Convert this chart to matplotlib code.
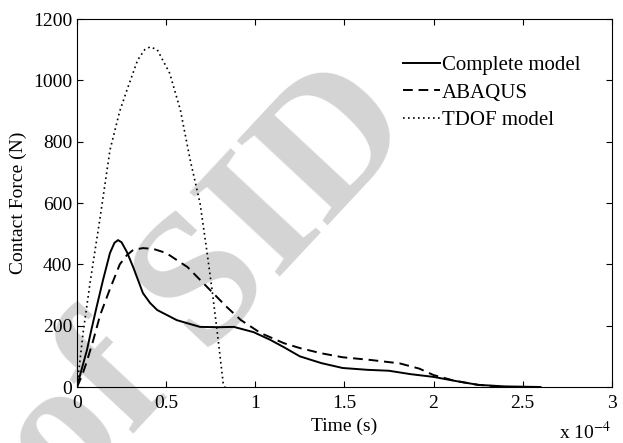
import matplotlib
matplotlib.use("Agg")
import matplotlib.pyplot as plt

plt.rcParams["font.family"] = ["Liberation Serif", "DejaVu Serif"]
plt.rcParams["mathtext.fontset"] = "stix"

# time in units of 1e-4 s, force in N
t_complete = [0, 0.02, 0.056, 0.08, 0.11, 0.146, 0.185, 0.21, 0.23, 0.25, 0.28, 0.315,
              0.37, 0.41, 0.45, 0.56, 0.69, 0.80, 0.88, 0.99, 1.08, 1.16, 1.25, 1.37,
              1.49, 1.63, 1.75, 1.87, 2.0, 2.12, 2.25, 2.4, 2.6]
f_complete = [0, 45, 121, 185, 261, 349, 437, 470, 479, 472, 440, 391,
              306, 274, 251, 218, 196, 195, 196, 179, 155, 130, 100, 78,
              62, 56, 53, 42, 33, 20, 7, 2, 0]

t_abaqus = [0, 0.03, 0.056, 0.09, 0.13, 0.185, 0.24, 0.28, 0.315, 0.37, 0.43, 0.5, 0.62,
            0.73, 0.84, 0.92, 1.03, 1.16, 1.25, 1.37, 1.49, 1.65, 1.81, 1.92, 2.0, 2.12,
            2.25, 2.4]
f_abaqus = [0, 40, 85, 150, 235, 320, 400, 430, 447, 453, 450, 437, 391,
            326, 261, 218, 176, 143, 127, 110, 97, 88, 77, 60, 39, 20,
            7, 0]

t_tdof = [0, 0.034, 0.073, 0.13, 0.185, 0.24, 0.28, 0.34, 0.38, 0.41, 0.45, 0.52, 0.58,
          0.635, 0.69, 0.73, 0.76, 0.79, 0.82, 0.83]
f_tdof = [0, 176, 339, 554, 773, 900, 968, 1066, 1100, 1109, 1100, 1023, 903,
          740, 600, 437, 306, 163, 13, 0]

fig = plt.figure(figsize=(6.23, 4.43), dpi=100)
ax = fig.add_axes([0.1236, 0.1264, 0.8584, 0.8307])
ax.patch.set_visible(False)

# faint watermark behind the curves
fig.text(0.335, 0.355, "of SID", fontsize=135, fontweight="bold", color="#d4d4d4",
         rotation=47, ha="center", va="center", zorder=-5)

ax.plot(t_complete, f_complete, "-", color="black", lw=1.4, label="Complete model")
ax.plot(t_abaqus, f_abaqus, color="black", lw=1.4, dashes=(5, 3), label="ABAQUS")
ax.plot(t_tdof, f_tdof, color="black", lw=1.2, linestyle=(0, (1, 2)), label="TDOF model")

ax.set_xlim(0, 3)
ax.set_ylim(0, 1200)
ax.set_xticks([0, 0.5, 1, 1.5, 2, 2.5, 3])
ax.set_xticklabels(["0", "0.5", "1", "1.5", "2", "2.5", "3"])
ax.set_yticks(range(0, 1201, 200))
ax.tick_params(direction="in", top=True, right=True, labelsize=14, length=4)
ax.tick_params(axis="x", pad=6)
ax.set_xlabel("Time (s)", fontsize=14, labelpad=4)
ax.set_ylabel("Contact Force (N)", fontsize=14)
fig.text(0.94, 0.008, r"x 10$^{-4}$", fontsize=14, ha="center", va="baseline")

ax.legend(loc="upper right", frameon=False, fontsize=15, handlelength=1.8,
          handletextpad=0.1, labelspacing=0.38, bbox_to_anchor=(0.977, 0.952))

fig.savefig("out.png", dpi=100)
